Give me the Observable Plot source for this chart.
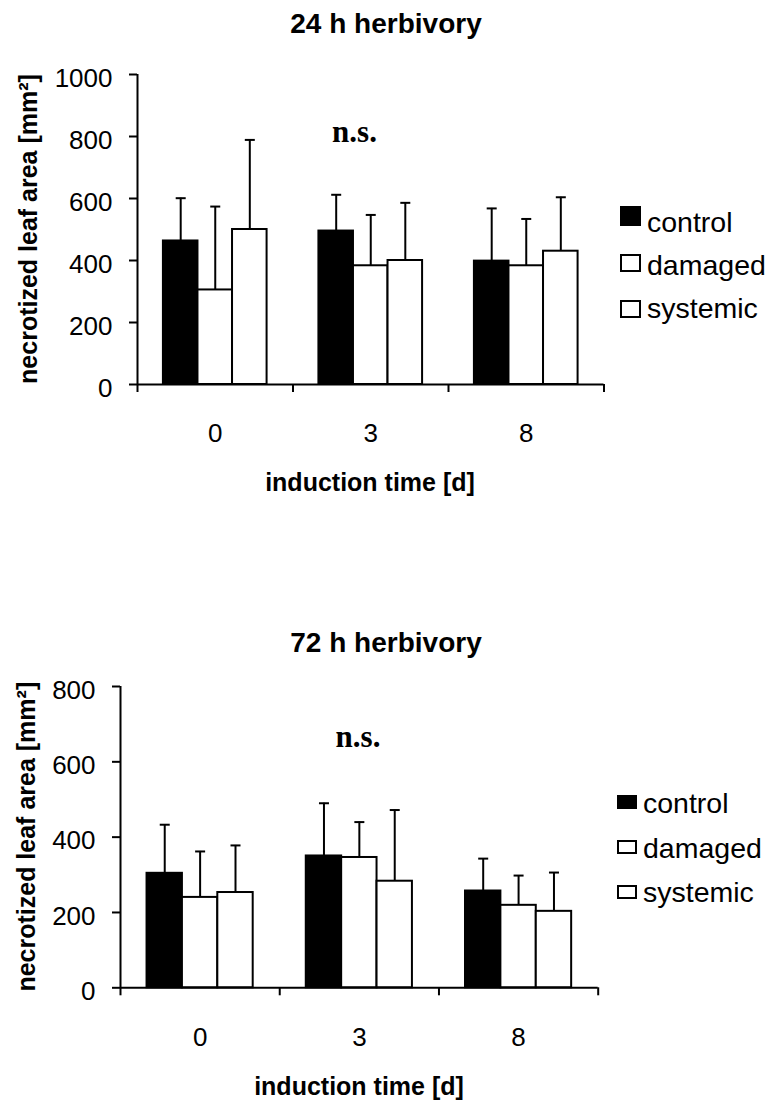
<!DOCTYPE html>
<html><head><meta charset="utf-8">
<script src="https://cdn.jsdelivr.net/npm/d3@7"></script>
<script src="https://cdn.jsdelivr.net/npm/@observablehq/plot@0.6"></script>
<style>
html,body{margin:0;padding:0;background:#fff;}
#wrap{position:relative;width:771px;height:1101px;overflow:hidden;font-family:"Liberation Sans",Arial,sans-serif;}
#wrap svg{position:absolute;left:0;}
</style></head><body><div id="wrap"></div>
<script>
// ---- data ----
const groups = ["0", "3", "8"];
const series = ["control", "damaged", "systemic"];
// 24 h herbivory: means and upper error (SD)
const control24 = [463, 495, 398];
const damaged24 = [305, 383, 383];
const systemic24 = [500, 400, 430];
const control24Sd = [138, 117, 170];
const damaged24Sd = [269, 164, 151];
const systemic24Sd = [289, 186, 174];
// 72 h herbivory
const control72 = [304, 350, 257];
const damaged72 = [240, 346, 219];
const systemic72 = [253, 283, 203];
const control72Sd = [129, 140, 86];
const damaged72Sd = [122, 94, 79];
const systemic72Sd = [125, 189, 103];
const yTicks24 = [0, 200, 400, 600, 800, 1000];
const yTicks72 = [0, 200, 400, 600, 800];
const titles = ["24 h herbivory", "72 h herbivory"];
const yTitle = "necrotized leaf area [mm²]";
const xTitle = "induction time [d]";
const sigLabel = "n.s.";

const FONT = "'Liberation Sans', Arial, sans-serif";
const SERIF = "'Liberation Serif', 'Times New Roman', serif";

const cap = {
  draw(ctx, size) {
    const h = Math.sqrt(size / Math.PI);
    ctx.moveTo(-h, 0); ctx.lineTo(h, 0);
  }
};

function chart({means, sds, yTicks, marginLeft, marginRight, marginTop, plotHeight}) {
  const rows = [];
  series.forEach((s, si) => groups.forEach((g, gi) =>
    rows.push({group: g, gi, series: s, si, mean: means[si][gi], sd: sds[si][gi]})));
  const gap = 1.5, slot = 1 / (series.length + gap);
  const x1 = d => d.gi + (gap / 2 + d.si) * slot;
  const x2 = d => x1(d) + slot;
  const xc = d => x1(d) + slot / 2;
  const marginBottom = 80;
  return Plot.plot({
    width: 771,
    height: marginTop + plotHeight + marginBottom,
    marginLeft, marginRight, marginTop, marginBottom,
    style: {fontFamily: FONT, fontSize: "26px", color: "black", background: "transparent", overflow: "visible"},
    x: {type: "linear", domain: [0, groups.length]},
    y: {domain: [0, yTicks[yTicks.length - 1]]},
    color: {domain: series, range: ["black", "white", "white"]},
    marks: [
      Plot.rect(rows, {x1, x2, y1: 0, y2: "mean", fill: "series", stroke: "black", strokeWidth: 2}),
      Plot.ruleX(rows, {x: xc, y1: "mean", y2: d => d.mean + d.sd, stroke: "black", strokeWidth: 2}),
      Plot.dot(rows, {x: xc, y: d => d.mean + d.sd, symbol: cap, r: 5, stroke: "black", strokeWidth: 2, fill: "none"}),
      Plot.ruleX([0], {stroke: "black", strokeWidth: 2}),
      Plot.ruleY([0], {stroke: "black", strokeWidth: 2}),
      Plot.axisY({ticks: yTicks, tickSize: 8, strokeWidth: 2, tickFormat: () => "", label: null}),
      Plot.axisY({ticks: yTicks, tickSize: 0, tickPadding: 25, dy: 4, tickFormat: d => String(d), label: null}),
      Plot.axisX({ticks: d3.range(groups.length + 1), tickSize: 8, strokeWidth: 2, tickFormat: () => "", label: null}),
      Plot.axisX({ticks: groups.map((g, i) => i + 0.5), tickSize: 0, tickPadding: 39.5, tickFormat: d => groups[Math.floor(d)], label: null})
    ]
  });
}

const wrap = document.getElementById("wrap");

const top1 = chart({
  means: [control24, damaged24, systemic24],
  sds: [control24Sd, damaged24Sd, systemic24Sd],
  yTicks: yTicks24, marginLeft: 137, marginRight: 167.5, marginTop: 74, plotHeight: 310
});
top1.style.top = "0px";
wrap.appendChild(top1);

const bot1 = chart({
  means: [control72, damaged72, systemic72],
  sds: [control72Sd, damaged72Sd, systemic72Sd],
  yTicks: yTicks72, marginLeft: 120, marginRight: 173.3, marginTop: 86, plotHeight: 301.3
});
bot1.style.top = "600px";
wrap.appendChild(bot1);

// ---- annotations: titles, axis titles, n.s., legends ----
const svg = d3.select(wrap).append("svg")
  .attr("width", 771).attr("height", 1101)
  .style("top", "0px").style("pointer-events", "none");

const panels = [
  {title: titles[0], titleY: 33, yLabX: 37, yLabY: 229, xLabX: 370, xLabY: 491, nsX: 354.5, nsY: 142,
   leg: {sx: 620, sw: 21, tx: 647, rows: [{y: 206, h: 20, b: 232}, {y: 254, h: 18, b: 275}, {y: 300, h: 18, b: 318}]}},
  {title: titles[1], titleY: 651.5, yLabX: 35, yLabY: 836.7, xLabX: 359, xLabY: 1095, nsX: 358, nsY: 747,
   leg: {sx: 617, sw: 20, tx: 643, rows: [{y: 795, h: 14, b: 813}, {y: 840, h: 14, b: 858}, {y: 885, h: 14, b: 902}]}}
];

panels.forEach(p => {
  svg.append("text").attr("x", 386).attr("y", p.titleY).attr("text-anchor", "middle")
    .attr("font-family", FONT).attr("font-weight", "bold").attr("font-size", 28).text(p.title);
  svg.append("text").attr("transform", `translate(${p.yLabX},${p.yLabY}) rotate(-90)`).attr("text-anchor", "middle")
    .attr("font-family", FONT).attr("font-weight", "bold").attr("font-size", 25).text(yTitle);
  svg.append("text").attr("x", p.xLabX).attr("y", p.xLabY).attr("text-anchor", "middle")
    .attr("font-family", FONT).attr("font-weight", "bold").attr("font-size", 25).text(xTitle);
  svg.append("text").attr("x", p.nsX).attr("y", p.nsY).attr("text-anchor", "middle")
    .attr("font-family", SERIF).attr("font-weight", "bold").attr("font-size", 31).text(sigLabel);
  series.forEach((s, i) => {
    const r = p.leg.rows[i];
    svg.append("rect").attr("x", p.leg.sx + 1).attr("y", r.y + 1).attr("width", p.leg.sw - 2).attr("height", r.h - 2)
      .attr("fill", i === 0 ? "black" : "white").attr("stroke", "black").attr("stroke-width", 2);
    svg.append("text").attr("x", p.leg.tx).attr("y", r.b)
      .attr("font-family", FONT).attr("font-size", 28.5).text(s);
  });
});
</script>
</body></html>
